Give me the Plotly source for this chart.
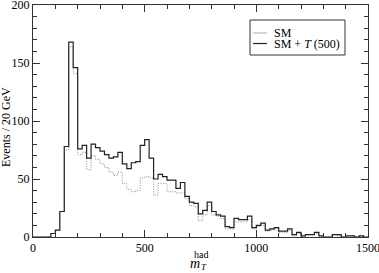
import plotly.graph_objects as go

# Bin edges (20 GeV bins from 0 to 1500 GeV)
bin_width = 20
bin_edges = list(range(0, 1500 + bin_width, bin_width))

# Events / 20 GeV, SM only (dotted)
sm = [0, 0, 0, 0, 3, 6, 22, 75, 164, 141,
      71, 73, 58, 70, 67, 63, 60, 56, 53, 56,
      46, 41, 39, 40, 51, 52, 51, 36, 46, 46,
      39, 39, 38, 38, 33, 27, 26, 14, 19, 27,
      19, 18, 16, 7, 7, 13, 13, 13, 15, 7,
      9, 10, 5, 6, 7, 4, 4, 6, 1, 3,
      1, 2, 2, 3, 1, 0, 0, 2, 1, 0,
      1, 1, 0, 1, 0]

# Events / 20 GeV, SM + T(500) (solid)
sm_t = [0, 0, 0, 0, 3, 6, 22, 78, 168, 146,
        76, 79, 68, 80, 77, 74, 71, 68, 69, 73,
        63, 59, 64, 65, 79, 84, 68, 50, 54, 52,
        49, 49, 42, 47, 35, 30, 29, 20, 23, 30,
        22, 19, 18, 9, 8, 16, 15, 15, 18, 8,
        10, 12, 6, 7, 8, 5, 5, 7, 2, 4,
        1, 2, 2, 4, 1, 0, 0, 2, 2, 0,
        1, 1, 0, 1, 0]

x_ticks = [0, 500, 1000, 1500]
y_ticks = [0, 50, 100, 150, 200]

FONT = "Liberation Serif"

def steps(vals):
    return vals + [vals[-1]]

fig = go.Figure()
fig.add_trace(go.Scatter(x=bin_edges, y=steps(sm), mode="lines", line_shape="hv",
                         line=dict(color="#8a8a8a", width=1, dash="1px,1.5px"),
                         name="SM", showlegend=False))
fig.add_trace(go.Scatter(x=bin_edges, y=steps(sm_t), mode="lines", line_shape="hv",
                         line=dict(color="#222222", width=1.2),
                         name="SM + T (500)", showlegend=False))

W, H = 379, 273
L, R, T, B = 33, 11, 5, 36
pw, ph = W - L - R, H - T - B

def px(xp):
    return (xp - L) / pw

def py(yp):
    return (H - B - yp) / ph

axis_common = dict(showgrid=False, zeroline=False, showline=True, linecolor="#333333",
                   linewidth=1, mirror="ticks", ticks="inside", ticklen=7,
                   tickcolor="#333333", tickwidth=1, automargin=False,
                   ticklabeloverflow="allow",
                   tickfont=dict(family=FONT, size=12, color="black"))

fig.update_xaxes(range=[0, 1500], tickvals=x_ticks,
                 minor=dict(ticks="inside", ticklen=4, dtick=100, tickcolor="#333333"),
                 **axis_common)
fig.update_yaxes(range=[0, 200], tickvals=y_ticks,
                 minor=dict(ticks="inside", ticklen=4, dtick=10, tickcolor="#333333"),
                 **axis_common)

# custom legend
shapes = [
    dict(type="rect", xref="paper", yref="paper", x0=px(250), x1=px(345), y0=py(55), y1=py(20),
         line=dict(color="#333333", width=1), fillcolor="white", layer="above"),
    dict(type="line", xref="paper", yref="paper", x0=px(253), x1=px(267), y0=py(33), y1=py(33),
         line=dict(color="#aaaaaa", width=1)),
    dict(type="line", xref="paper", yref="paper", x0=px(253), x1=px(267), y0=py(43.5), y1=py(43.5),
         line=dict(color="#222222", width=1.2)),
]
annotations = [
    dict(text="SM", xref="paper", yref="paper", x=px(272), y=py(33), xanchor="left", yanchor="middle",
         showarrow=False, font=dict(family=FONT, size=12, color="black")),
    dict(text="SM + <i>T</i> (500)", xref="paper", yref="paper", x=px(272), y=py(43.5),
         xanchor="left", yanchor="middle", showarrow=False,
         font=dict(family=FONT, size=12, color="black")),
    dict(text="Events / 20 GeV", xref="paper", yref="paper", x=px(6), y=py(127), textangle=-90,
         xanchor="center", yanchor="middle", showarrow=False,
         font=dict(family=FONT, size=12, color="black")),
    dict(text="had", xref="paper", yref="paper", x=px(192), y=py(254), xanchor="left",
         yanchor="middle", showarrow=False, font=dict(family=FONT, size=10, color="black")),
    dict(text="<i>m</i>", xref="paper", yref="paper", x=px(188), y=py(263), xanchor="left",
         yanchor="middle", showarrow=False, font=dict(family=FONT, size=14, color="black")),
    dict(text="<i>T</i>", xref="paper", yref="paper", x=px(198.5), y=py(267), xanchor="left",
         yanchor="middle", showarrow=False, font=dict(family=FONT, size=9, color="black")),
]

fig.update_layout(width=W, height=H, margin=dict(l=L, r=R, t=T, b=B, pad=0),
                  paper_bgcolor="white", plot_bgcolor="white", showlegend=False,
                  shapes=shapes, annotations=annotations)

fig.write_html("out.html", config={"displayModeBar": False},
               post_script="document.body.style.margin='0';document.body.style.overflow='hidden';")
